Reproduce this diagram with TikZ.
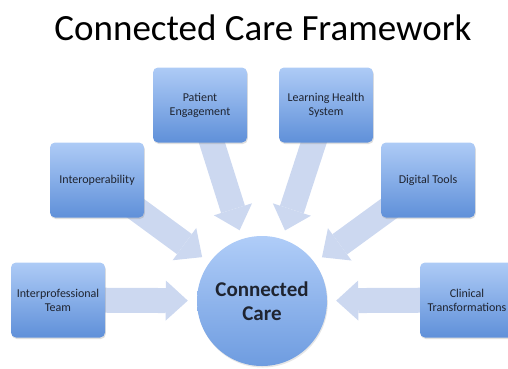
\documentclass[tikz,border=0pt]{standalone}
\usepackage{fontspec}
\setmainfont{Carlito}
\usetikzlibrary{arrows.meta, positioning, shadows, backgrounds}
\definecolor{cboxtop}{HTML}{AECBF6}
\definecolor{cboxbot}{HTML}{5F90D9}
\definecolor{chubtop}{HTML}{B0CDF8}
\definecolor{chubbot}{HTML}{6E9CE0}
\definecolor{carrow}{HTML}{CCD8F0}
\definecolor{ctext}{HTML}{1F2430}
\tikzset{
  every picture/.style={font=\fontsize{12}{14}\selectfont, text=ctext},
  topic/.style={rounded corners=5pt, top color=cboxtop, bottom color=cboxbot, minimum width=94pt, minimum height=75pt, align=center, inner sep=1pt, drop shadow={opacity=0.25, shadow xshift=0.8pt, shadow yshift=-1.5pt}},
  hubnode/.style={circle, minimum size=130pt, inner sep=0pt, top color=chubtop, bottom color=chubbot, align=center, font=\bfseries\fontsize{21}{24}\selectfont, drop shadow={opacity=0.2, shadow xshift=0.8pt, shadow yshift=-1.5pt}},
  flow/.style={draw=carrow, line width=25pt, -{Triangle[width=40pt, length=22pt, line width=0pt]}, shorten >=9pt},
  title/.style={font=\fontsize{37}{42}\selectfont, text=black},
}

\begin{document}
\begin{tikzpicture}[x=1pt, y=-1pt]
  \useasboundingbox (0,0) rectangle (508,368);
  \node[title, anchor=base] (ttl) at (263,40) {Connected Care Framework};
  \node[hubnode] (hub) at (262,301) {Connected\\Care};
  \node[topic] (team) at (58,300) {Interprofessional\\Team};
  \node[topic] (interop) at (97,180) {Interoperability};
  \node[topic] (patient) at (200,105) {Patient\\Engagement};
  \node[topic] (learning) at (326,105) {Learning Health\\System};
  \node[topic] (digital) at (428,180) {Digital Tools};
  \node[topic] (clinical) at (467,300) {Clinical\\Transformations};
  \begin{scope}[on background layer]
    \draw[flow] (team.center) -- (hub);
    \draw[flow] (interop.center) -- (hub);
    \draw[flow] (patient.center) -- (hub);
    \draw[flow] (learning.center) -- (hub);
    \draw[flow] (digital.center) -- (hub);
    \draw[flow] (clinical.center) -- (hub);
  \end{scope}
\end{tikzpicture}
\end{document}
